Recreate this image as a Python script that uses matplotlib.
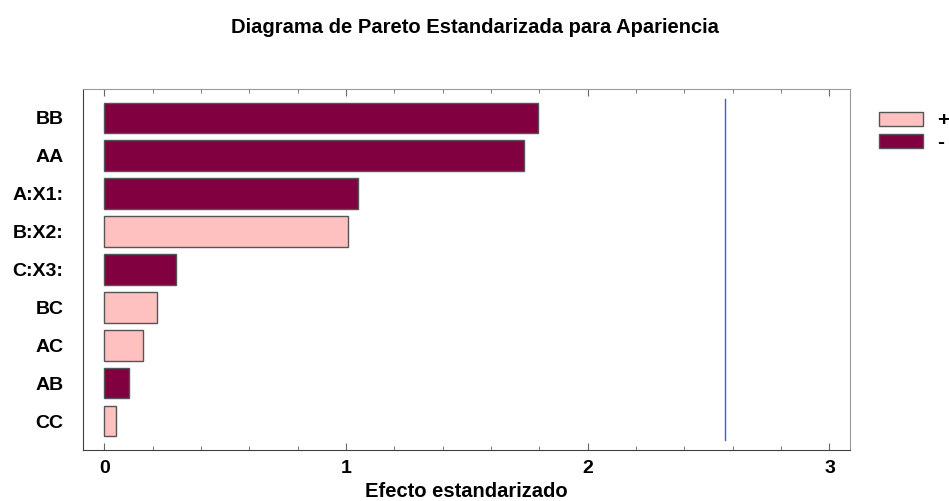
import numpy as np
import matplotlib.pyplot as plt
from matplotlib.patches import Patch
from matplotlib.ticker import MultipleLocator

plt.rcParams['font.family'] = ['Liberation Sans', 'DejaVu Sans']

factors = ["BB", "AA", "A:X1:", "B:X2:", "C:X3:", "BC", "AC", "AB", "CC"]
effects = [1.796, 1.738, 1.051, 1.007, 0.295, 0.219, 0.161, 0.101, 0.050]
signs = ["-", "-", "-", "+", "-", "+", "+", "-", "+"]
t_crit = 2.567

c_pos = "#FFC0C0"
c_neg = "#800040"
colors = [c_pos if s == "+" else c_neg for s in signs]

fig = plt.figure(figsize=(9.49, 5.01), dpi=100)
ax = fig.add_axes([0.0875, 0.1018, 0.8082, 0.7206])

ypos = np.arange(len(factors))
ax.barh(ypos, effects, height=0.81, color=colors, edgecolor="#555555", linewidth=1)
ax.plot([t_crit, t_crit], [-0.5, len(factors) - 0.5], color="#4d4dff", lw=1)

ax.set_ylim(len(factors) - 1 + 0.765, -0.765)
ax.set_xlim(-0.088, 3.085)
ax.set_yticks(ypos)
ax.set_yticklabels(factors, fontsize=14, fontweight="bold")
ax.tick_params(axis="y", length=0, pad=14)

ax.xaxis.set_major_locator(MultipleLocator(1))
ax.xaxis.set_minor_locator(MultipleLocator(0.2))
ax.tick_params(axis="x", which="both", direction="in", top=True, color="#666666",
               labelsize=14, pad=7)
ax.tick_params(axis="x", which="major", length=5)
ax.tick_params(axis="x", which="minor", length=3)
for lbl in ax.get_xticklabels():
    lbl.set_fontweight("bold")

ax.spines["left"].set_color("#404040")
ax.spines["bottom"].set_color("#404040")
ax.spines["top"].set_color("#999999")
ax.spines["right"].set_color("#999999")

ax.set_xlabel("Efecto estandarizado", fontsize=14.5, fontweight="bold", labelpad=4)
fig.suptitle("Diagrama de Pareto Estandarizada para Apariencia", fontsize=14.5,
             fontweight="bold", y=0.965)

handles = [Patch(facecolor=c_pos, edgecolor="#555555", label="+"),
           Patch(facecolor=c_neg, edgecolor="#555555", label="-")]
leg = fig.legend(handles=handles, loc="upper left", bbox_to_anchor=(0.926, 0.778),
                 frameon=False, handlelength=2.1, handleheight=0.72, labelspacing=0.15,
                 handletextpad=0.7, borderaxespad=0, borderpad=0,
                 prop={"weight": "bold", "size": 15})

fig.savefig("out.png", dpi=100)
